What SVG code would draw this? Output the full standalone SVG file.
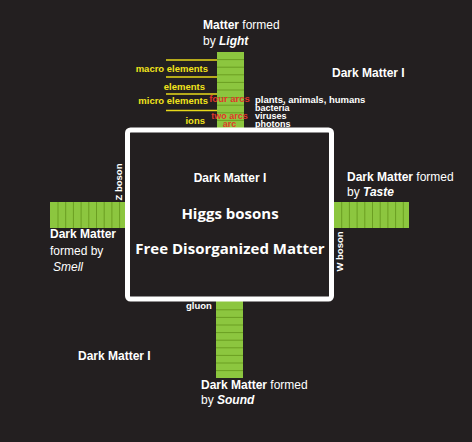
<svg xmlns="http://www.w3.org/2000/svg" width="472" height="442" viewBox="0 0 472 442">
<style>
.t{font-family:"Liberation Sans",Arial,sans-serif;font-weight:bold;fill:#fff}
.r{font-weight:normal}
.s{font-size:12px}
.x{font-size:9.5px}
.z{font-size:9px}
.y{fill:#f2e41c}
.red{fill:#e2362b}
.big{font-family:"Open Sans","Noto Sans",sans-serif;font-weight:bold;fill:#fff;font-size:15px}
.bar{fill:#8cc63f}
.str{stroke:#6b9e22;stroke-width:1;fill:none}
.yl{stroke:#e8d91a;stroke-width:1.5;fill:none}
</style>
<rect width="472" height="442" fill="#231f20"/>
<g id="bar-top">
<rect class="bar" x="217" y="52" width="27" height="78"/>
<path class="str" d="M217 59.6H244M217 67.2H244M217 74.8H244M217 82.4H244M217 90H244M217 97.6H244M217 105.2H244M217 112.8H244M217 120.4H244"/>
</g>
<g id="bar-left">
<rect class="bar" x="50" y="202" width="78" height="26"/>
<path class="str" d="M58 202V228M65.7 202V228M73.4 202V228M81.1 202V228M88.8 202V228M96.5 202V228M104.2 202V228M111.9 202V228M119.6 202V228"/>
</g>
<g id="bar-right">
<rect class="bar" x="332" y="202" width="77" height="26"/>
<path class="str" d="M341.7 202V228M349.4 202V228M357.1 202V228M364.8 202V228M372.5 202V228M380.2 202V228M387.9 202V228M395.6 202V228M403.3 202V228"/>
</g>
<g id="bar-bottom">
<rect class="bar" x="216" y="300" width="27" height="78"/>
<path class="str" d="M216 309.8H243M216 317.4H243M216 325H243M216 332.6H243M216 340.2H243M216 347.8H243M216 355.4H243M216 363H243M216 370.6H243"/>
</g>
<g id="connectors">
<path class="yl" d="M166 60H217M166 77H217M166 94H217M166 110.5H217"/>
</g>
<g id="box">
<rect x="127.5" y="130" width="204" height="169" rx="3" fill="#231f20" stroke="#fff" stroke-width="5"/>
<text class="t s" x="230" y="182" text-anchor="middle">Dark Matter I</text>
<text class="big" x="230" y="218.5" text-anchor="middle">Higgs bosons</text>
<text class="big" x="230" y="254" text-anchor="middle">Free Disorganized Matter</text>
</g>
<g id="light-labels">
<text class="t s" x="203" y="29">Matter <tspan class="r">formed</tspan></text>
<text class="t s r" x="203" y="45">by <tspan font-weight="bold" font-style="italic">Light</tspan></text>
<text class="t x y" x="208" y="71.5" text-anchor="end">macro elements</text>
<text class="t x y" x="205" y="89.5" text-anchor="end">elements</text>
<text class="t x y" x="208" y="104" text-anchor="end">micro elements</text>
<text class="t x y" x="205" y="123.5" text-anchor="end">ions</text>
<text class="t x red" x="229.5" y="102" text-anchor="middle">four arcs</text>
<text class="t z red" x="229.5" y="118.5" text-anchor="middle">two arcs</text>
<text class="t z red" x="229.5" y="127" text-anchor="middle">arc</text>
<text class="t x" x="255" y="102.5">plants, animals, humans</text>
<text class="t z" x="255" y="111">bacteria</text>
<text class="t z" x="255" y="119">viruses</text>
<text class="t z" x="255" y="127">photons</text>
</g>
<g id="dm-topright"><text class="t s" x="332" y="77">Dark Matter I</text></g>
<g id="dm-bottomleft"><text class="t s" x="78" y="360">Dark Matter I</text></g>
<g id="smell-labels">
<text class="t s" x="50" y="238">Dark Matter</text>
<text class="t s r" x="50" y="255">formed by</text>
<text class="t s r" x="53" y="271" font-style="italic">Smell</text>
<text class="t x" transform="translate(122 182) rotate(-90)" text-anchor="middle">Z boson</text>
</g>
<g id="taste-labels">
<text class="t s" x="347" y="181">Dark Matter <tspan class="r">formed</tspan></text>
<text class="t s r" x="347" y="196">by <tspan font-weight="bold" font-style="italic">Taste</tspan></text>
<text class="t x" transform="translate(343 251.5) rotate(-90)" text-anchor="middle">W boson</text>
</g>
<g id="sound-labels">
<text class="t x" x="186" y="309">gluon</text>
<text class="t s" x="201" y="389">Dark Matter <tspan class="r">formed</tspan></text>
<text class="t s r" x="201" y="404">by <tspan font-weight="bold" font-style="italic">Sound</tspan></text>
</g>
</svg>
